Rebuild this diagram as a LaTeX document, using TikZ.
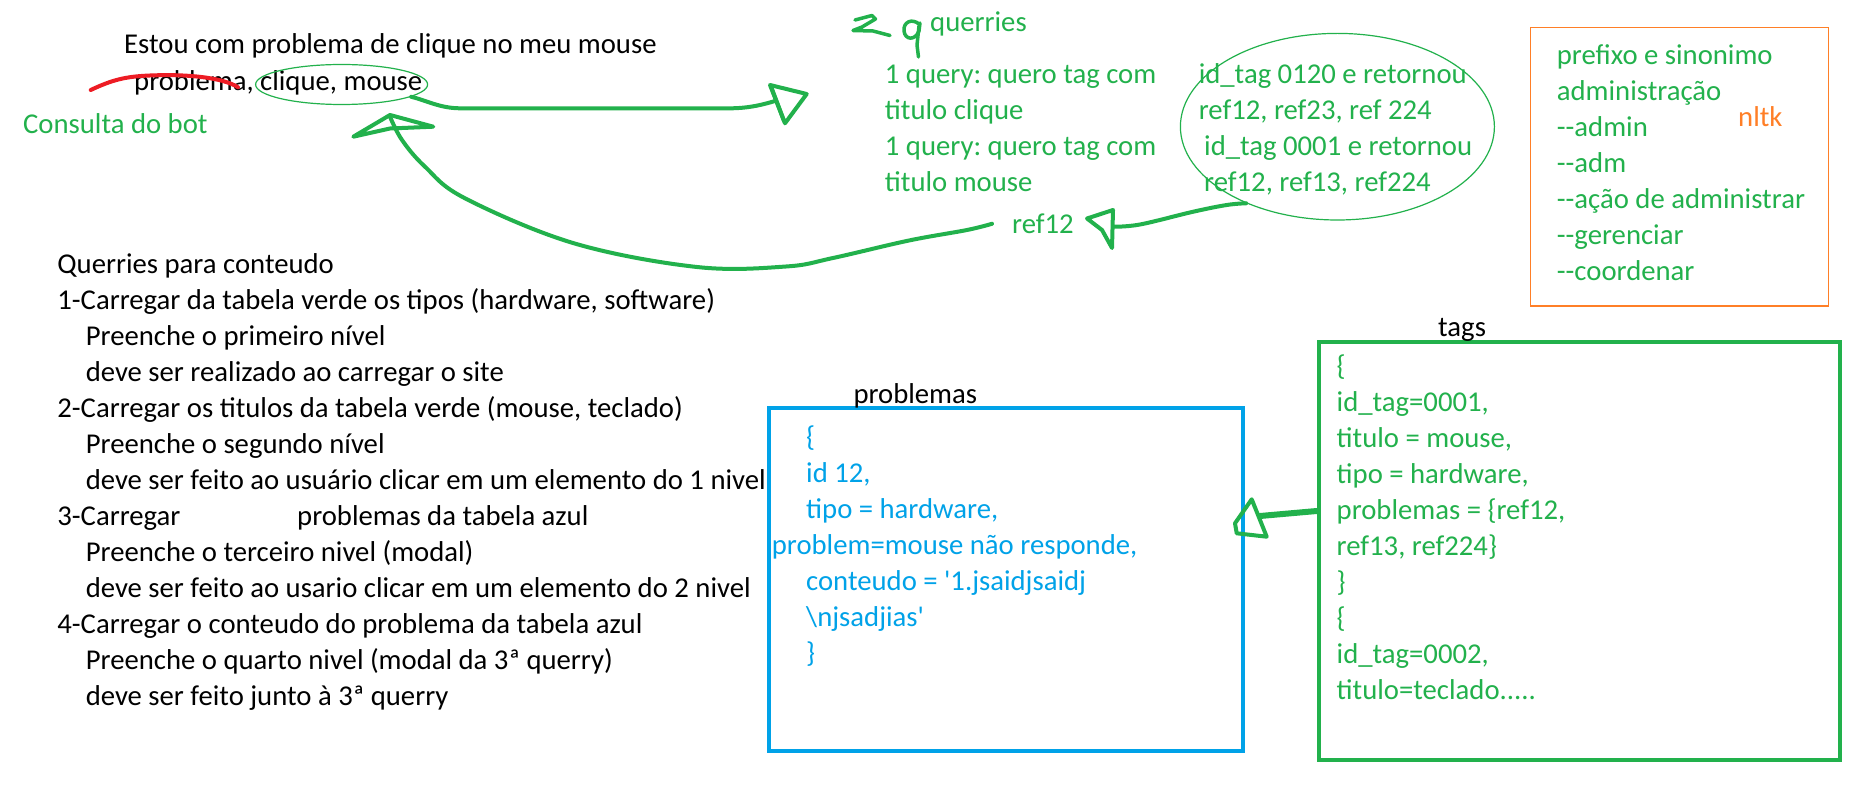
\documentclass[tikz,border=0pt]{standalone}
\usepackage{fontspec}
\newfontfamily\calib{Carlito}
\usetikzlibrary{shapes.geometric}
\definecolor{pgreen}{HTML}{22B14C}
\definecolor{pblue}{HTML}{00A2E8}
\definecolor{porange}{HTML}{FF7F27}
\definecolor{pred}{HTML}{ED1C24}
\tikzset{
  blk/.style={font=\calib\fontsize{28.7}{36}\selectfont\frenchspacing, text=black, inner sep=0, align=left},
  grn/.style={blk, text=pgreen},
  blu/.style={blk, text=pblue},
  org/.style={blk, text=porange},
  conn/.style={draw=pgreen, line width=4, line cap=round, line join=round},
  head/.style={draw=pgreen, line width=4, line cap=round, line join=round},
}
\begin{document}
\begin{tikzpicture}[x=1pt,y=-1pt]
\fill[white] (0,0) rectangle (1871,794);
\path[use as bounding box] (0,0) rectangle (1871,794);

% top sentence
\node[blk, anchor=base west] (frase) at (124,53.5) {Estou com problema de clique no meu mouse};
\node[blk, anchor=base west] (palavras) at (134,91) {problema, clique, mouse};
\node[grn, anchor=base west] (bot) at (23,134) {Consulta do bot};
\draw[pred, line width=4, line cap=round] (90.7,90) .. controls (112,80) and (125,76.5) .. (150,75.5) .. controls (185,74) and (222,77) .. (238,87.3);
\node[ellipse, draw=pgreen, line width=1.2, minimum width=172, minimum height=40, inner sep=0] (el1) at (341.6,84.5) {};

% queries
\draw[head, line width=3.5] (855,20) -- (872,15.5) -- (875.5,19) -- (862,27) -- (853,30.5) -- (873,31) -- (890,35.5);
\draw[head, line width=3.5] (919,24) .. controls (912,18) and (903,22) .. (904,31) .. controls (905,40) and (915,41) .. (919,31) -- (920,23);
\draw[head, line width=3.5] (919,26) -- (917,45) -- (918.5,57);
\node[grn, anchor=base west] (qtitle) at (930,31.5) {querries};
\node[grn, anchor=north west] (ql) at (884.7,57.8) {\strut 1 query: quero tag com\\titulo clique\\1 query: quero tag com\\titulo mouse};
\node[grn, anchor=north west] (qr) at (1198.6,57.8) {\strut id\_tag 0120 e retornou\\ref12, ref23, ref 224\\\hspace*{5.4pt}id\_tag 0001 e retornou\\\hspace*{5.4pt}ref12, ref13, ref224};
\node[ellipse, draw=pgreen, line width=1.2, minimum width=314, minimum height=186.6, inner sep=0] (el2) at (1337.4,126.7) {};
\node[grn, anchor=base west] (ref12) at (1012,233.5) {ref12};

% arrow 1 : palavras -> queries
\coordinate (h1) at (775,101);
\draw[conn] (el1.-10) .. controls (425,100) and (440,108.3) .. (460,108.3) -- (730,108.3) .. controls (750,108.3) and (765,104) .. (h1);
\draw[head] (770,85) -- (806.7,94) -- (785,123.3) -- cycle;
\draw[head] (772,89) -- (784,121);

% arrow 3 : ellipse -> ref12
\coordinate (h3) at (1113,226.7);
\draw[conn] plot[smooth, tension=0.6] coordinates {(el2.-140) (1226.7,205) (1193.3,211.7) (1140,224.5) (h3)};
\draw[head] (1113,210) -- (1087,218.5) -- (1102,230) -- (1112,248) -- cycle;

% arrow 2 : ref12 -> palavras
\coordinate (h2) at (390,116.7);
\draw[conn] plot[smooth, tension=0.6] coordinates {([xshift=-20pt]ref12.west) (967,230) (909,240.5) (833,258) (786,266.5) (697,267) (574,243.3) (465,198.3) (425,166.7) (402,140) (h2)};
\draw[head] (353.3,136.7) -- (390,115) -- (433.3,126.7) -- (390,128.5) -- cycle;

% orange box
\node[draw=porange, line width=1.5, minimum width=297.6, minimum height=278.3, inner sep=0] (obox) at (1679.5,166.8) {};
\node[grn, anchor=north west] (sinon) at (1556.7,39.3) {\strut prefixo e sinonimo\\administração\\-\kern0pt-admin\\-\kern0pt-adm\\-\kern0pt-ação de administrar\\-\kern0pt-gerenciar\\-\kern0pt-coordenar};
\node[org, anchor=base west] (nltk) at (1738,126.7) {nltk};

% left list
\node[blk, anchor=north west] (lista) at (57.2,247.8) {\strut Querries para conteudo\\
1-Carregar da tabela verde os tipos (hardware, software)\\
\hspace*{28.4pt}Preenche o primeiro nível\\
\hspace*{28.4pt}deve ser realizado ao carregar o site\\
2-Carregar os titulos da tabela verde (mouse, teclado)\\
\hspace*{28.4pt}Preenche o segundo nível\\
\hspace*{28.4pt}deve ser feito ao usuário clicar em um elemento do 1 nivel\\
\makebox[239.8pt][l]{3-Carregar}problemas da tabela azul\\
\hspace*{28.4pt}Preenche o terceiro nivel (modal)\\
\hspace*{28.4pt}deve ser feito ao usario clicar em um elemento do 2 nivel\\
4-Carregar o conteudo do problema da tabela azul\\
\hspace*{28.4pt}Preenche o quarto nivel (modal da 3ª querry)\\
\hspace*{28.4pt}deve ser feito junto à 3ª querry};

% problemas box
\node[draw=pblue, line width=4, minimum width=473.4, minimum height=342.7, inner sep=0] (pbox) at (1006,579.7) {};
\node[blk, anchor=base west] (ptitle) at (853.3,403.3) {problemas};
\node[blu, anchor=north west] (ptext) at (771.7,420.6) {\strut\hspace*{34.3pt}\{\\
\hspace*{34.3pt}id 12,\\
\hspace*{34.3pt}tipo = hardware,\\
problem=mouse não responde,\\
\hspace*{34.3pt}conteudo = \textquotesingle 1.jsaidjsaidj\\
\hspace*{34.3pt}\textbackslash njsadjias\textquotesingle\\
\hspace*{34.3pt}\}};

% tags box
\node[draw=pgreen, line width=4, minimum width=521.7, minimum height=417.7, inner sep=0] (tbox) at (1579.6,551.2) {};
\node[blk, anchor=base west] (ttitle) at (1438,336.7) {tags};
\node[grn, anchor=north west] (ttext) at (1336.5,350) {\strut\{\\
id\_tag=0001,\\
titulo = mouse,\\
tipo = hardware,\\
problemas = \{ref12,\\
ref13, ref224\}\\
\}\\
\{\\
id\_tag=0002,\\
titulo=teclado.....};

% arrow 4 : tags -> problemas
\coordinate (h4) at (1260,516);
\draw[conn, line width=6] ([yshift=40.2pt]tbox.west) -- (h4);
\draw[head] (1251.7,499.3) -- (1235,523.3) -- (1236.7,533.3) -- (1266.7,536.7) -- cycle;
\end{tikzpicture}
\end{document}
